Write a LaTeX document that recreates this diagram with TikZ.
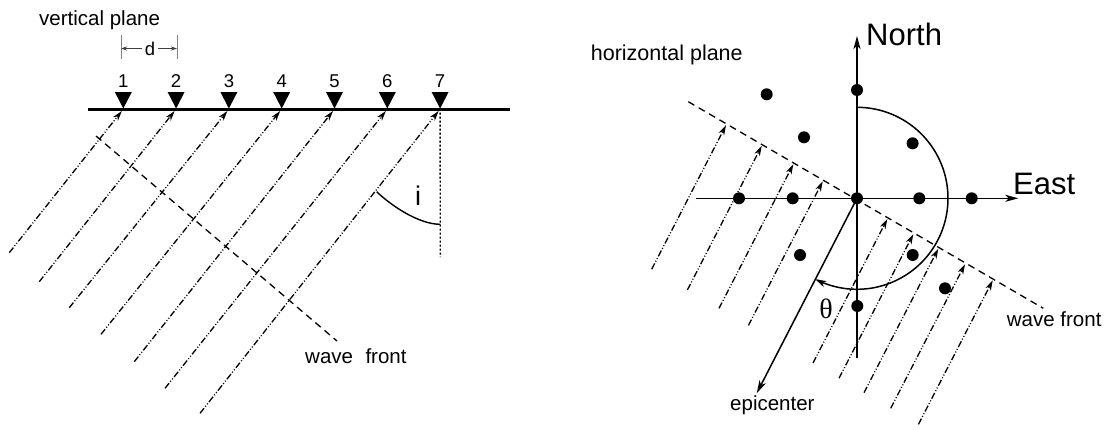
\documentclass[tikz,border=0pt]{standalone}
\usepackage{fontspec}
\setmainfont{Liberation Sans}
\newfontfamily\grkfont{Liberation Serif}
\usetikzlibrary{arrows.meta}
\begin{document}
\begin{tikzpicture}[x=1pt,y=-1pt,
  ray/.style={line width=1.3pt, dash pattern=on 6.5pt off 2pt on 1pt off 2pt on 1pt off 2pt,
    -{Stealth[length=10pt,width=6pt,inset=3pt]}},
  front/.style={line width=1.3pt, dash pattern=on 7pt off 5pt},
  axarrow/.style={line width=1.5pt, -{Stealth[length=13pt,width=7pt,inset=3.5pt]}},
  dot/.style={circle, fill=black, inner sep=0pt, minimum size=12pt},
  lab/.style={font=\fontsize{20.5}{24}\selectfont, inner sep=0pt, anchor=base west},
  num/.style={font=\fontsize{18.5}{22}\selectfont, inner sep=0pt, anchor=base},
  big/.style={font=\fontsize{31}{36}\selectfont, inner sep=0pt, anchor=base west}]
\useasboundingbox (0,0) rectangle (1111,429);

% ---------------- left panel: vertical plane ----------------
\node[lab] (vp) at (39,25) {vertical plane};
\draw[line width=2.2pt] (88,109.5) coordinate (hl) -- (510,109.5) coordinate (hr);
\foreach \k in {1,...,7} {
  \pgfmathsetmacro\xx{123.3+52.8*(\k-1)}
  \coordinate (s\k) at (\xx,108.5);
  \coordinate (t\k) at (\xx-1.5,111);
  \fill (\xx-8.5,92) -- (\xx+8.5,92) -- (s\k) -- cycle;
  \node[num] (n\k) at (\xx,87.5) {\k};
}
% spacing d
\coordinate (dl) at (121,48.5);
\coordinate (dr) at (177,48.5);
\draw[gray, line width=0.9pt] (121,35) -- (121,59) (177,35) -- (177,59);
\node[num] (d) at (150,55) {d};
\draw[black!75, line width=0.9pt, -{Stealth[length=6pt,width=4pt]}] (142,48.5) -- (dl);
\draw[black!75, line width=0.9pt, -{Stealth[length=6pt,width=4pt]}] (158,48.5) -- (dr);
% rays
\foreach \k/\ex/\ey in {1/9.3/252.7, 2/39.3/281.7, 3/69.3/307.7, 4/101/334.3,
                        5/134.3/361.7, 6/165/388.3, 7/200/413.3} {
  \coordinate (e\k) at (\ex,\ey);
  \draw[ray] (e\k) -- (t\k);
}
% vertical reference and angle i
\coordinate (vb) at (440.3,257);
\draw[line width=1.4pt, dash pattern=on 2pt off 2pt] (s7) -- (vb);
\draw[line width=1.4pt] (376.7,191.7) .. controls (391,205.5) and (418.7,224.3) .. (440.3,224.3);
\node[inner sep=0pt, anchor=base, font=\fontsize{27}{30}\selectfont] (i) at (418,205) {i};
% wave front
\coordinate (wf1) at (96,136);
\coordinate (wf2) at (337,341);
\draw[front] (wf1) -- (wf2);
\node[lab] (wfl) at (305,363.3) {wave\hspace{12.5pt}front};

% ---------------- right panel: horizontal plane ----------------
\node[lab, font=\fontsize{21.5}{25}\selectfont] (hp) at (590.7,60) {horizontal plane};
\coordinate (O) at (857,198.3);
\coordinate (S) at (857,358);
\coordinate (N) at (857,36);
\coordinate (W) at (696,198.3);
\coordinate (E) at (1018.3,198.3);
\coordinate (epi) at (756.7,393.3);
% rays (drawn first, beneath the rest)
\foreach \tx/\ty in {726/125.2, 761.7/145.9, 793.3/164.3, 822.7/181.4, 887.3/219.0,
                     913.3/234.2, 938.3/248.7, 965/264.3, 992.7/280.4} {
  \coordinate (rt) at (\tx,\ty);
  \coordinate (re) at (\tx-74.3,\ty+144);
  \draw[ray] (re) -- (rt);
}
% wave front
\coordinate (wr1) at (688.3,101.7);
\coordinate (wr2) at (1043.3,308.3);
\draw[front] (wr1) -- (wr2);
% axes
\draw[axarrow] (S) -- (N);
\draw[axarrow] (W) -- (E);
\node[big] (north) at (866,45) {North};
\node[big] (east) at (1013,194) {East};
% azimuth arc
\draw[line width=1.5pt, -{Stealth[length=11pt,width=6.5pt,inset=3pt]}]
  plot[domain=90:-117.3, samples=90, smooth] ({857+91*cos(\x)},{198.3-91*sin(\x)});
\node[inner sep=0pt, font=\grkfont\fontsize{28}{32}\selectfont] (theta) at (826,309) {θ};
% epicenter direction
\draw[line width=1.5pt, -{Stealth[length=13pt,width=7pt,inset=3.5pt]}] (O) -- (epi);
\node[lab] (epil) at (730,410) {epicenter};
\node[lab] (wfr) at (1006.7,326.5) {wave front};
% stations
\foreach \px/\py in {857/90, 766.7/94.3, 804/137.3, 912.6/143.3, 739/198.3, 792.7/198.3,
                     857/198.3, 919.3/198.3, 971.7/198.3, 800/255, 912.7/255, 945/288.3, 857.3/306} {
  \node[dot] at (\px,\py) {};
}
\end{tikzpicture}
\end{document}
